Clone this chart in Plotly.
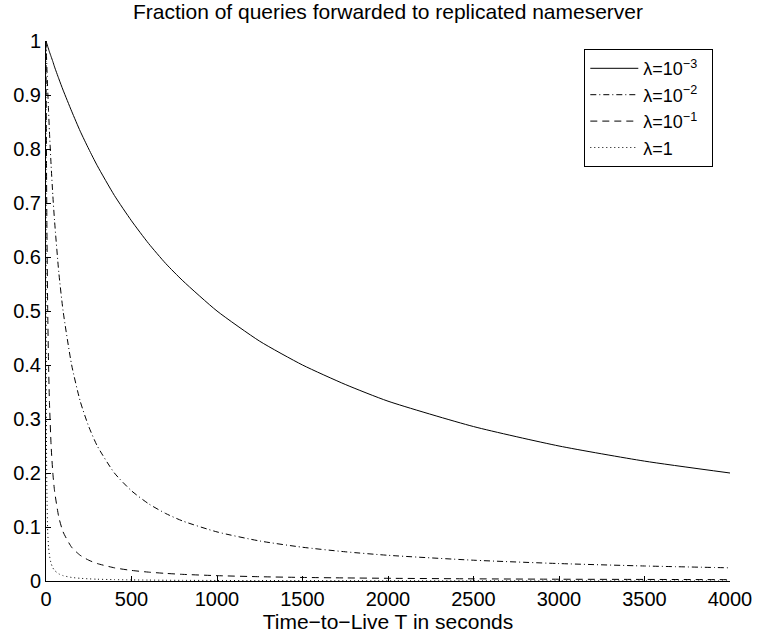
import plotly.graph_objects as go

# Time-to-Live T (seconds)
T = [0, 1, 2, 3, 5, 10, 15, 20, 30, 40, 50, 75, 100, 150, 200, 250, 300, 400, 500,
     600, 700, 800, 1000, 1250, 1500, 1750, 2000, 2500, 3000, 3500, 4000]

# fraction of queries forwarded
f_1e3 = [1.0, 0.999, 0.998, 0.997, 0.995, 0.990, 0.985, 0.980, 0.971, 0.962, 0.952, 0.930, 0.909,
         0.870, 0.833, 0.800, 0.769, 0.714, 0.667, 0.625, 0.588, 0.556, 0.5, 0.444, 0.4, 0.364,
         0.333, 0.286, 0.25, 0.222, 0.2]
f_1e2 = [1.0, 0.990, 0.980, 0.971, 0.952, 0.909, 0.870, 0.833, 0.769, 0.714, 0.667, 0.571, 0.5,
         0.4, 0.333, 0.286, 0.25, 0.2, 0.167, 0.143, 0.125, 0.111, 0.0909, 0.0741, 0.0625, 0.0541,
         0.0476, 0.0385, 0.0323, 0.0278, 0.0244]
f_1e1 = [1.0, 0.909, 0.833, 0.769, 0.667, 0.5, 0.4, 0.333, 0.25, 0.2, 0.167, 0.118, 0.0909,
         0.0625, 0.0476, 0.0385, 0.0323, 0.0244, 0.0196, 0.0164, 0.0141, 0.0123, 0.0099, 0.0079,
         0.0066, 0.0057, 0.005, 0.004, 0.0033, 0.0029, 0.0025]
f_1 = [1.0, 0.5, 0.333, 0.25, 0.167, 0.0909, 0.0625, 0.0476, 0.0323, 0.0244, 0.0196, 0.0132,
       0.0099, 0.0066, 0.005, 0.004, 0.0033, 0.0025, 0.002, 0.0017, 0.0014, 0.0012, 0.001,
       0.0008, 0.0007, 0.0006, 0.0005, 0.0004, 0.0003, 0.0003, 0.0002]

series = [
    ("λ=10<sup>−3</sup>\u00a0\u00a0", f_1e3, "solid"),
    ("λ=10<sup>−2</sup>\u00a0\u00a0", f_1e2, "6px,3px,1px,3px"),
    ("λ=10<sup>−1</sup>\u00a0\u00a0", f_1e1, "7px,5px"),
    ("λ=1", f_1, "1px,3px"),
]

fig = go.Figure()
for name, vals, dash in series:
    fig.add_trace(go.Scatter(x=T, y=vals, mode="lines", name=name,
                             line=dict(color="black", width=1, dash=dash, shape="spline", smoothing=0.6)))

font = "Liberation Sans, Arial, sans-serif"
fig.update_layout(
    width=758, height=636,
    margin=dict(l=46, r=28, t=41, b=55),
    paper_bgcolor="white", plot_bgcolor="white",
    font=dict(family=font, color="black", size=20),
    title=dict(text="Fraction of queries forwarded to replicated nameserver",
               x=0.5, xref="paper", xanchor="center", y=0.982, yref="container", yanchor="middle",
               font=dict(size=21)),
    legend=dict(x=0.787, y=0.985, xanchor="left", yanchor="top",
                bordercolor="black", borderwidth=1, bgcolor="white",
                font=dict(size=18), tracegroupgap=0, itemwidth=48),
    showlegend=True,
)
fig.update_xaxes(range=[0, 4000], tickvals=[0, 500, 1000, 1500, 2000, 2500, 3000, 3500, 4000],
                 showgrid=False, zeroline=False, showline=True, linecolor="black", linewidth=1,
                 ticks="inside", ticklen=5, tickcolor="black", tickfont=dict(size=20),
                 automargin=False,
                 title=dict(text="Time−to−Live T in seconds", standoff=0, font=dict(size=21)))
fig.update_yaxes(range=[0, 1], tickvals=[0, 0.1, 0.2, 0.3, 0.4, 0.5, 0.6, 0.7, 0.8, 0.9, 1],
                 ticktext=["0", "0.1", "0.2", "0.3", "0.4", "0.5", "0.6", "0.7", "0.8", "0.9", "1"],
                 showgrid=False, zeroline=False, showline=True, linecolor="black", linewidth=1,
                 ticks="inside", ticklen=5, tickcolor="black", tickfont=dict(size=20),
                 automargin=False)

fig.write_html("out.html")
